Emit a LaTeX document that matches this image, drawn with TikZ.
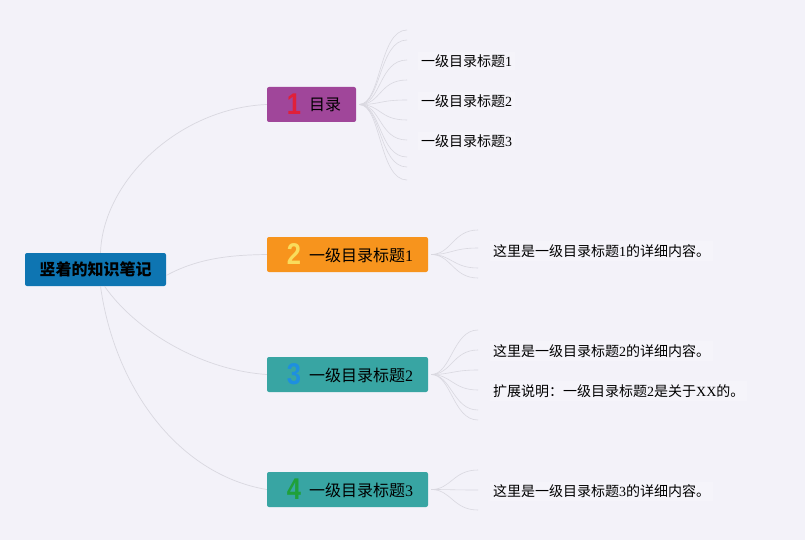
\documentclass[tikz,border=0pt]{standalone}
\usepackage{fontspec}
\setmainfont{Liberation Serif}
\newfontfamily\cjk{Noto Sans CJK SC}
\newfontfamily\numf{Liberation Sans}
\definecolor{bgc}{HTML}{F3F2F9}
\definecolor{linec}{HTML}{D9D8E0}
\definecolor{rootc}{HTML}{0E75B2}
\definecolor{purc}{HTML}{A0469A}
\definecolor{orc}{HTML}{F7941D}
\definecolor{tealc}{HTML}{38A5A3}
\definecolor{n1c}{HTML}{E0203A}
\definecolor{n2c}{HTML}{F9DC5C}
\definecolor{n3c}{HTML}{1E8FE0}
\definecolor{n4c}{HTML}{1FA03A}
\begin{document}
\begin{tikzpicture}[x=1pt,y=-1pt,
  boxnode/.style={rounded corners=2pt, inner sep=0pt},
  numnode/.style={font=\numf\bfseries\fontsize{30}{30}\selectfont, inner sep=0pt, xscale=0.85},
  brtext/.style={anchor=west, inner sep=0pt, font=\fontsize{16}{18}\selectfont},
  leaf/.style={anchor=west, inner sep=3pt, fill=white, fill opacity=0.22, text opacity=1, font=\fontsize{14}{16}\selectfont},
  link/.style={draw=linec, line width=0.7pt},
  fan/.style={draw=linec, line width=0.6pt}]
\fill[bgc] (0,0) rectangle (805,540);
\useasboundingbox (0,0) rectangle (805,540);

% root
\node[boxnode, fill=rootc, minimum width=141, minimum height=33] (root) at (95.5,269.5)
  {\cjk\bfseries\fontsize{16}{18}\selectfont 竖着的知识笔记};

% branch boxes
\node[boxnode, fill=purc, minimum width=89, minimum height=35] (b1) at (311.5,104.5) {};
\node[boxnode, fill=orc, minimum width=161, minimum height=35] (b2) at (347.5,254.5) {};
\node[boxnode, fill=tealc, minimum width=161, minimum height=35] (b3) at (347.5,374.5) {};
\node[boxnode, fill=tealc, minimum width=161, minimum height=35] (b4) at (347.5,489.5) {};

\node[numnode, text=n1c] (n1) at (294,104.5) {1};
\node[brtext] (t1) at (309,105) {\cjk 目录};
\node[numnode, text=n2c] (n2) at (294,254.5) {2};
\node[brtext] (t2) at (309,255) {{\cjk 一级目录标题}1};
\node[numnode, text=n3c] (n3) at (294,374.5) {3};
\node[brtext] (t3) at (309,375) {{\cjk 一级目录标题}2};
\node[numnode, text=n4c] (n4) at (294,489.5) {4};
\node[brtext] (t4) at (309,490) {{\cjk 一级目录标题}3};

% root connectors
\draw[link] ([xshift=5pt]root.north) .. controls (103,180) and (180,108) .. (b1.west);
\draw[link] ([yshift=-6pt]root.east) .. controls (200,257) and (235,255) .. (b2.west);
\draw[link] ([xshift=9pt]root.south) .. controls (135,330) and (200,370) .. (b3.west);
\draw[link] ([xshift=5pt]root.south) .. controls (115,390) and (180,475) .. (b4.west);

% fan 1
\foreach \yy [count=\i] in {30,40,60,80,100,120,140,157,167,180} {
  \coordinate (p1-\i) at (407,\yy);
  \draw[fan] ([xshift=3pt]b1.east) .. controls +(22,0) and +(-28,0) .. (p1-\i);
}
% fan 2
\foreach \yy [count=\i] in {230,248,268,278} {
  \coordinate (p2-\i) at (478,\yy);
  \draw[fan] ([xshift=3pt]b2.east) .. controls +(20,0) and +(-25,0) .. (p2-\i);
}
% fan 3
\foreach \yy [count=\i] in {330,350,370,390,410,420} {
  \coordinate (p3-\i) at (478,\yy);
  \draw[fan] ([xshift=3pt]b3.east) .. controls +(20,0) and +(-25,0) .. (p3-\i);
}
% fan 4
\foreach \yy [count=\i] in {470,490,510} {
  \coordinate (p4-\i) at (478,\yy);
  \draw[fan] ([xshift=3pt]b4.east) .. controls +(20,0) and +(-25,0) .. (p4-\i);
}

% leaf texts
\node[leaf] (l11) at (418,61) {{\cjk 一级目录标题}1};
\node[leaf] (l12) at (418,101) {{\cjk 一级目录标题}2};
\node[leaf] (l13) at (418,141) {{\cjk 一级目录标题}3};
\node[leaf] (l21) at (490,251) {{\cjk 这里是一级目录标题}1{\cjk 的详细内容。}};
\node[leaf] (l31) at (490,351) {{\cjk 这里是一级目录标题}2{\cjk 的详细内容。}};
\node[leaf] (l32) at (490,391) {{\cjk 扩展说明：一级目录标题}2{\cjk 是关于}XX{\cjk 的。}};
\node[leaf] (l41) at (490,491) {{\cjk 这里是一级目录标题}3{\cjk 的详细内容。}};
\end{tikzpicture}
\end{document}
